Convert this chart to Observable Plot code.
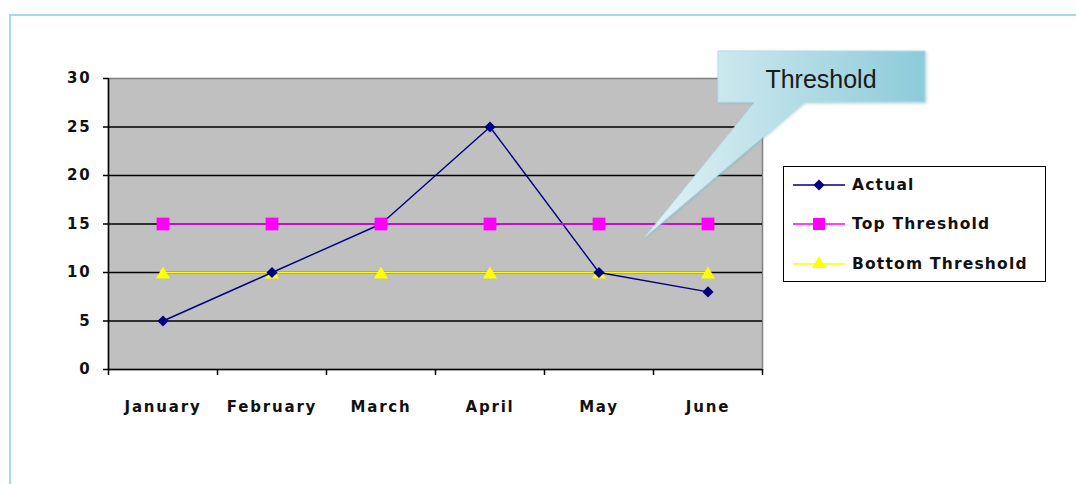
<!DOCTYPE html>
<html>
<head>
<meta charset="utf-8">
<script src="https://cdn.jsdelivr.net/npm/d3@7"></script>
<script src="https://cdn.jsdelivr.net/npm/@observablehq/plot@0.6"></script>
<style>
  html, body { margin: 0; padding: 0; background: #fff; }
  #wrap { position: relative; width: 1076px; height: 484px; overflow: hidden; }
  #frameBorder { position: absolute; left: 9px; top: 14px; width: 1200px; height: 600px;
    border-left: 2px solid #a9d9e6; border-top: 2px solid #a9d9e6; box-sizing: border-box; }
  #chart { position: absolute; left: 0; top: 0; }
  #legend { position: absolute; left: 783px; top: 166px; width: 263px; height: 116px;
    border: 1.5px solid #000; box-sizing: border-box; background: #fff;
    font-family: "DejaVu Sans", sans-serif; font-weight: bold; font-size: 15.5px; letter-spacing: 1.2px; color: #111; }
  .row { position: absolute; left: 8px; height: 20px; display: flex; align-items: center; }
  .row svg { width: 54px; height: 20px; margin-right: 6px; }
  #callout { position: absolute; left: 0; top: 0; pointer-events: none; }
</style>
</head>
<body>
<div id="wrap">
  <div id="frameBorder"></div>
  <div id="chart"></div>
  <div id="legend"></div>
  <svg id="callout" width="1076" height="484"></svg>
</div>
<script>
const months = ["January", "February", "March", "April", "May", "June"];
const actual = [5, 10, 15, 25, 10, 8];
const topThreshold = [15, 15, 15, 15, 15, 15];
const bottomThreshold = [10, 10, 10, 10, 10, 10];
const yTicks = [0, 5, 10, 15, 20, 25, 30];
const gridTicks = [5, 10, 15, 20, 25];
const seriesNames = ["Actual", "Top Threshold", "Bottom Threshold"];
const seriesColors = ["#000080", "#ff00ff", "#ffff00"];
const calloutText = "Threshold";

const rows = months.map((m, i) => ({
  pos: i + 0.5, month: m,
  actual: actual[i], top: topThreshold[i], bottom: bottomThreshold[i]
}));
const boundaries = d3.range(months.length + 1);

const chart = Plot.plot({
  width: 1076,
  height: 484,
  marginLeft: 108,
  marginRight: 314,
  marginTop: 78,
  marginBottom: 115,
  x: { domain: [0, months.length] },
  y: { domain: [0, 30] },
  style: { fontFamily: "DejaVu Sans, sans-serif", fontSize: "15px", fontWeight: "bold", color: "#111", background: "transparent", letterSpacing: "1.8px" },
  marks: [
    Plot.frame({ fill: "#c0c0c0", stroke: "#808080", strokeWidth: 1.5 }),
    Plot.gridY(gridTicks, { stroke: "#000", strokeOpacity: 1, strokeWidth: 1.5 }),
    Plot.ruleX([0], { stroke: "#000", strokeWidth: 1.5 }),
    Plot.ruleY([0], { stroke: "#000", strokeWidth: 1.5 }),
    Plot.axisY({ ticks: yTicks, tickSize: 5, tickPadding: 12, label: null, stroke: "#000", strokeWidth: 1.5 }),
    Plot.axisX({ ticks: boundaries, tickSize: 6, tickFormat: () => "", label: null, stroke: "#000", strokeWidth: 1.5 }),
    Plot.axisX({ ticks: rows.map(d => d.pos), tickSize: 0, tickPadding: 32, label: null,
      tickFormat: v => months[Math.floor(v)] }),
    Plot.line(rows, { x: "pos", y: "bottom", stroke: seriesColors[2], strokeWidth: 1.4 }),
    Plot.dot(rows, { x: "pos", y: "bottom", symbol: "triangle", r: 5.2, fill: seriesColors[2], stroke: "none", dy: 2 }),
    Plot.line(rows, { x: "pos", y: "actual", stroke: seriesColors[0], strokeWidth: 1.4 }),
    Plot.dot(rows, { x: "pos", y: "actual", symbol: "diamond2", r: 5, fill: seriesColors[0], stroke: "none" }),
    Plot.line(rows, { x: "pos", y: "top", stroke: seriesColors[1], strokeWidth: 1.4 }),
    Plot.dot(rows, { x: "pos", y: "top", symbol: "square", r: 7.2, fill: seriesColors[1], stroke: "none" })
  ]
});
document.getElementById("chart").appendChild(chart);

// Legend
const symbols = [d3.symbolDiamond2, d3.symbolSquare, d3.symbolTriangle];
const symSizes = [Math.PI * 5 * 5, Math.PI * 6.8 * 6.8, Math.PI * 5.2 * 5.2];
const legend = document.getElementById("legend");
const rowTops = [8, 47, 87];
seriesNames.forEach((name, i) => {
  const row = document.createElement("div");
  row.className = "row";
  row.style.top = rowTops[i] + "px";
  const path = d3.symbol(symbols[i], symSizes[i])();
  row.innerHTML = `<svg viewBox="0 0 54 20"><line x1="1" x2="53" y1="10" y2="10" stroke="${seriesColors[i]}" stroke-width="1.5"/>` +
    `<path d="${path}" transform="translate(27,10)" fill="${seriesColors[i]}"/></svg><span>${name}</span>`;
  legend.appendChild(row);
});

// Callout annotation
const svg = d3.select("#callout");
const defs = svg.append("defs");
const grad = defs.append("linearGradient").attr("id", "cg").attr("x1", "0%").attr("x2", "100%").attr("y1", "0%").attr("y2", "0%");
grad.append("stop").attr("offset", "0%").attr("stop-color", "#e3f2f6");
grad.append("stop").attr("offset", "100%").attr("stop-color", "#8ccbd9");
const filt = defs.append("filter").attr("id", "sh").attr("x", "-10%").attr("y", "-10%").attr("width", "130%").attr("height", "130%");
filt.append("feDropShadow").attr("dx", 1).attr("dy", 1).attr("stdDeviation", 1.5).attr("flood-color", "#7fb8c6").attr("flood-opacity", 0.6);
svg.append("path")
  .attr("d", "M718,51 L925,51 L925,102 L804,102 L645,237 L755,102 L718,102 Z")
  .attr("fill", "url(#cg)")
  .attr("stroke", "#b9dde6")
  .attr("stroke-width", 1)
  .attr("filter", "url(#sh)");
svg.append("text")
  .attr("x", 821).attr("y", 88)
  .attr("text-anchor", "middle")
  .attr("font-family", "Liberation Sans, Arial, sans-serif")
  .attr("font-size", 25)
  .attr("fill", "#1a1a1a")
  .text(calloutText);
</script>
</body>
</html>
